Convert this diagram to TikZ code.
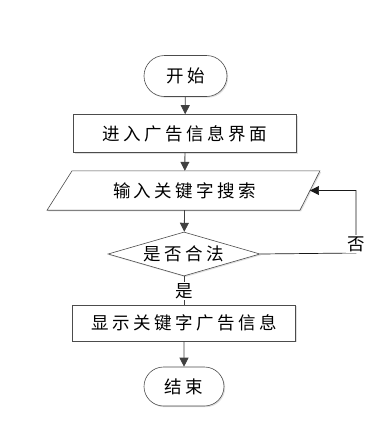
\documentclass[tikz,border=0pt]{standalone}
\usepackage{fontspec}
\newfontfamily\cjk[LetterSpace=20]{Noto Sans CJK SC}
\usetikzlibrary{shapes.geometric,shapes.misc,arrows.meta,shadows,calc}
\begin{document}
\begin{tikzpicture}[x=1pt,y=-1pt,
  txt/.style={font=\cjk\fontsize{17.5}{17.5}\selectfont,text=black},
  shad/.style={drop shadow={shadow xshift=1.2pt,shadow yshift=-1.2pt,fill=black!25,opacity=0.5}},
  base/.style={txt,draw=black!70,line width=0.6pt,fill=white,inner sep=0pt,shad},
  term/.style={base,rounded rectangle,minimum width=83pt,minimum height=41pt},
  proc/.style={base,rectangle,minimum width=223pt,minimum height=38pt},
  io/.style={txt,rectangle,inner sep=0pt,minimum width=250pt,minimum height=39pt},
  dec/.style={base,diamond,aspect=3.45,minimum width=152pt,minimum height=44pt},
  lbl/.style={txt,fill=white,inner sep=1pt},
  arr/.style={draw=black!75,line width=0.8pt,-{Triangle[length=9pt,width=9pt]}}]
\useasboundingbox (0,0) rectangle (391,440);
\node[term] (start) at (185.5,76) {开始};
\node[proc] (p1) at (185,133.5) {进入广告信息界面};
\node[io] (in) at (184.75,190.5) {\phantom{输入关键字搜索}};
\draw[draw=black!70,line width=0.6pt,fill=white,shad]
  ($(in.north west)+(12.5,0)$) -- ($(in.north east)+(10,0)$) -- ($(in.south east)+(-10,0)$) -- ($(in.south west)+(-12.5,0)$) -- cycle;
\node[txt,inner sep=0pt] (intext) at (in.center) {输入关键字搜索};
\node[dec] (d) at (184,254) {是否合法};
\node[proc,minimum height=36pt] (p2) at (184,323) {显示关键字广告信息};
\node[term,minimum width=80pt,minimum height=39pt] (end) at (184,386.5) {结束};
\coordinate (c1) at (356,253);
\coordinate (c2) at (356,190.5);
\draw[arr] (start) -- (p1);
\draw[arr] (p1) -- (in);
\draw[arr] (in) -- (d);
\draw[arr] (p2) -- (end);
\draw[black!90,line width=0.7pt,-{Triangle[length=9pt,width=9pt]}] (d.east) -- (c1) -- (c2) -- (in.east |- c2);
\node[lbl] (no) at (356,244) {否};
\draw[black!75,line width=0.8pt] (d.south) -- (p2.north);
\node[lbl] (yes) at (184,291) {是};
\end{tikzpicture}
\end{document}
